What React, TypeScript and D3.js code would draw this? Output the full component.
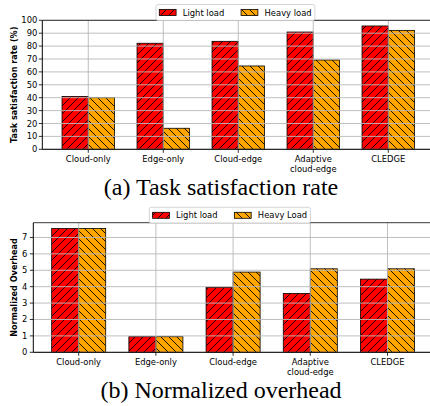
import * as d3 from "d3";
import { useEffect, useRef } from "react";

const categories = ["Cloud-only", "Edge-only", "Cloud-edge", "Adaptive\ncloud-edge", "CLEDGE"];

const satisfactionLight = [41, 82.2, 83.7, 90.9, 95.6];
const satisfactionHeavy = [40, 16.3, 64.6, 69.2, 92.2];
const satisfactionTicks = [0, 10, 20, 30, 40, 50, 60, 70, 80, 90, 100];

const overheadLight = [7.55, 0.95, 3.96, 3.59, 4.46];
const overheadHeavy = [7.55, 0.95, 4.89, 5.09, 5.09];
const overheadTicks = [0, 1, 2, 3, 4, 5, 6, 7];

const legendA = ["Light load", "Heavy load"];
const legendB = ["Light load", "Heavy Load"];

const FONT = "DejaVu Sans";
const RED = "#ff0000";
const ORANGE = "#ffa500";

type Panel = {
  left: number;
  top: number;
  bottom: number;
  unit: number;
  pad: number;
  yMax: number;
  ticks: number[];
  light: number[];
  heavy: number[];
  ylabel: string;
  legend: string[];
  legendX: number;
  legendY: number;
  caption: string;
  captionY: number;
  labelGap: number;
};

export default function App() {
  const svgRef = useRef(null);

  useEffect(() => {
    const svg = d3.select(svgRef.current);
    svg.selectAll("*").remove();

    const defs = svg.append("defs");
    const h = 8;
    const hatch = (id: string, color: string, forward: boolean) => {
      const p = defs
        .append("pattern")
        .attr("id", id)
        .attr("patternUnits", "userSpaceOnUse")
        .attr("width", h)
        .attr("height", h);
      p.append("rect").attr("width", h).attr("height", h).attr("fill", color);
      const d = forward
        ? `M0,${h} L${h},0 M${-h / 4},${h / 4} L${h / 4},${-h / 4} M${(3 * h) / 4},${(5 * h) / 4} L${(5 * h) / 4},${(3 * h) / 4}`
        : `M0,0 L${h},${h} M${-h / 4},${(3 * h) / 4} L${h / 4},${(5 * h) / 4} M${(3 * h) / 4},${-h / 4} L${(5 * h) / 4},${h / 4}`;
      p.append("path").attr("d", d).attr("stroke", "#000").attr("stroke-width", 0.9);
    };
    hatch("hl", RED, true);
    hatch("hh", ORANGE, false);

    const panels: Panel[] = [
      {
        left: 42.3, top: 20.3, bottom: 149.3, unit: 75, pad: 0.613, yMax: 100, ticks: satisfactionTicks,
        light: satisfactionLight, heavy: satisfactionHeavy,
        ylabel: "Task satisfaction rate (%)", legend: legendA, legendX: 156, legendY: 4.5,
        caption: "(a) Task satisfaction rate", captionY: 195, labelGap: 5,
      },
      {
        left: 33.3, top: 222.7, bottom: 352.3, unit: 77.2, pad: 0.588, yMax: 7.9, ticks: overheadTicks,
        light: overheadLight, heavy: overheadHeavy,
        ylabel: "Normalized Overhead", legend: legendB, legendX: 149.3, legendY: 207.3,
        caption: "(b) Normalized overhead", captionY: 398, labelGap: 6,
      },
    ];

    panels.forEach((p) => {
      const g = svg.append("g");
      const x = d3
        .scaleLinear()
        .domain([-p.pad, 4 + p.pad])
        .range([p.left, p.left + (4 + 2 * p.pad) * p.unit]);
      const y = d3.scaleLinear().domain([0, p.yMax]).range([p.bottom, p.top]);
      const bw = x(0.35) - x(0);

      // bars
      const series = [
        { vals: p.light, off: -0.175, fill: "url(#hl)" },
        { vals: p.heavy, off: 0.175, fill: "url(#hh)" },
      ];
      series.forEach((s) => {
        g.selectAll(null)
          .data(s.vals)
          .enter()
          .append("rect")
          .attr("x", (_, i) => x(i + s.off) - bw / 2)
          .attr("y", (d) => y(d))
          .attr("width", bw)
          .attr("height", (d) => p.bottom - y(d))
          .attr("fill", s.fill)
          .attr("stroke", "#000")
          .attr("stroke-width", 0.8);
      });

      // grid on top of bars
      g.selectAll(null)
        .data(p.ticks)
        .enter()
        .append("line")
        .attr("x1", p.left)
        .attr("x2", 430)
        .attr("y1", (d) => y(d))
        .attr("y2", (d) => y(d))
        .attr("stroke", "#b8b8b8")
        .attr("stroke-width", 0.9);
      g.selectAll(null)
        .data(categories)
        .enter()
        .append("line")
        .attr("x1", (_, i) => x(i))
        .attr("x2", (_, i) => x(i))
        .attr("y1", p.top)
        .attr("y2", p.bottom)
        .attr("stroke", "#b8b8b8")
        .attr("stroke-width", 0.9);

      // spines
      g.append("line").attr("x1", p.left).attr("x2", 430).attr("y1", p.top).attr("y2", p.top)
        .attr("stroke", "#222").attr("stroke-width", 0.9);
      g.append("line").attr("x1", p.left).attr("x2", 430).attr("y1", p.bottom).attr("y2", p.bottom)
        .attr("stroke", "#000").attr("stroke-width", 1);
      g.append("line").attr("x1", p.left).attr("x2", p.left).attr("y1", p.top).attr("y2", p.bottom)
        .attr("stroke", "#000").attr("stroke-width", 1);

      // y ticks
      g.selectAll(null)
        .data(p.ticks)
        .enter()
        .append("line")
        .attr("x1", p.left - 3.5)
        .attr("x2", p.left)
        .attr("y1", (d) => y(d))
        .attr("y2", (d) => y(d))
        .attr("stroke", "#000")
        .attr("stroke-width", 0.8);
      g.selectAll(null)
        .data(p.ticks)
        .enter()
        .append("text")
        .attr("x", p.left - p.labelGap)
        .attr("y", (d) => y(d) + 3)
        .attr("text-anchor", "end")
        .attr("font-family", FONT)
        .attr("font-size", 8.4)
        .text((d) => d);

      // x ticks + labels
      g.selectAll(null)
        .data(categories)
        .enter()
        .append("line")
        .attr("x1", (_, i) => x(i))
        .attr("x2", (_, i) => x(i))
        .attr("y1", p.bottom)
        .attr("y2", p.bottom + 3.5)
        .attr("stroke", "#000")
        .attr("stroke-width", 0.8);
      categories.forEach((c, i) => {
        c.split("\n").forEach((line, k) => {
          g.append("text")
            .attr("x", x(i))
            .attr("y", p.bottom + 12.5 + k * 9.8)
            .attr("text-anchor", "middle")
            .attr("font-family", FONT)
            .attr("font-size", 8.4)
            .text(line);
        });
      });

      // y label
      g.append("text")
        .attr("transform", `translate(16.5,${(p.top + p.bottom) / 2}) rotate(-90)`)
        .attr("text-anchor", "middle")
        .attr("font-family", FONT)
        .attr("font-weight", "bold")
        .attr("font-size", 8.1)
        .text(p.ylabel);

      // legend
      const lg = g.append("g");
      const box = lg
        .append("rect")
        .attr("x", p.legendX)
        .attr("y", p.legendY)
        .attr("height", 16)
        .attr("rx", 2)
        .attr("fill", "#fff")
        .attr("fill-opacity", 0.9)
        .attr("stroke", "#cccccc")
        .attr("stroke-width", 0.8);
      let cx = p.legendX + 3.3;
      const fills = ["url(#hl)", "url(#hh)"];
      p.legend.forEach((name, k) => {
        lg.append("rect")
          .attr("x", cx)
          .attr("y", p.legendY + 5)
          .attr("width", 16.8)
          .attr("height", 6)
          .attr("fill", fills[k])
          .attr("stroke", "#000")
          .attr("stroke-width", 0.8);
        const t = lg
          .append("text")
          .attr("x", cx + 16.8 + 6.7)
          .attr("y", p.legendY + 11)
          .attr("font-family", FONT)
          .attr("font-size", 8.4)
          .text(name);
        const tw = (t.node() as SVGTextElement).getComputedTextLength();
        cx = cx + 16.8 + 6.7 + tw + (k === 0 ? 16.8 : 3.3);
      });
      box.attr("width", cx - p.legendX);

      // caption
      svg
        .append("text")
        .attr("x", 221)
        .attr("y", p.captionY)
        .attr("text-anchor", "middle")
        .attr("font-family", "Liberation Serif")
        .attr("font-size", 24)
        .text(p.caption);
    });
  }, []);

  return (
    <svg
      ref={svgRef}
      width={430}
      height={406}
      style={{ position: "absolute", left: 0, top: 0, background: "#fff" }}
    ></svg>
  );
}
